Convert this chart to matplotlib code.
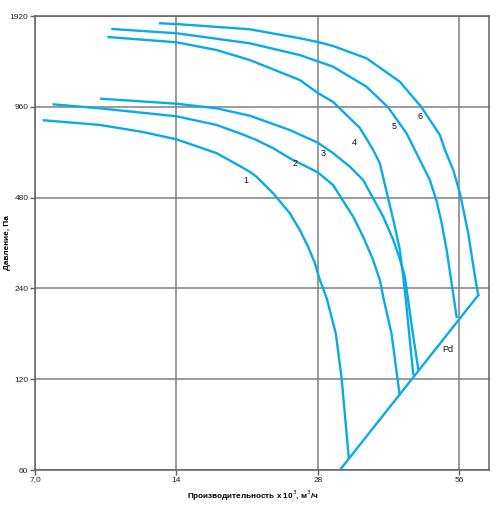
import matplotlib.pyplot as plt
from matplotlib.ticker import FixedLocator, FixedFormatter, NullLocator

plt.rcParams['font.family'] = ['Liberation Sans', 'DejaVu Sans']

# характеристики вентилятора, Q (тыс. м3/ч) и P (Па)
q1 = [7.31, 9.61, 11.88, 14.0, 17.04, 19.1, 20.06, 20.73, 22.49, 24.41, 25.63, 26.7, 27.6, 28.28, 28.74, 29.31, 30.58, 31.45, 32.6]
p1 = [866, 836, 792, 749, 674, 611, 585, 563, 496, 426, 375, 330, 291, 256, 240, 220, 170, 122, 65.6]

q2 = [7.67, 9.61, 14.0, 17.04, 19.1, 20.73, 22.49, 24.41, 28.0, 30.18, 31.45, 33.3, 34.97, 36.73, 37.95, 38.58, 40.19, 41.8]
p2 = [978, 949, 893, 836, 784, 745, 700, 648, 582, 528, 477, 415, 356, 298, 256, 225, 170, 107]

q3 = [9.69, 14.0, 17.04, 20.06, 24.41, 28.0, 30.18, 32.76, 34.97, 36.73, 38.58, 40.52, 41.86, 42.9, 43.6, 44.62, 45.8]
p3 = [1021, 983, 949, 897, 804, 730, 674, 608, 549, 477, 415, 348, 300, 263, 220, 170, 130]

q4 = [10.04, 14.0, 17.04, 20.06, 25.63, 28.0, 30.18, 34.41, 36.73, 37.95, 39.53, 40.85, 41.86, 42.55, 43.11, 43.82, 44.69]
p4 = [1635, 1571, 1481, 1372, 1178, 1067, 996, 817, 691, 624, 477, 385, 322, 263, 220, 170, 125]

q5 = [10.23, 14.0, 20.06, 25.63, 30.18, 35.56, 39.53, 43.26, 46.93, 48.5, 50.12, 51.32, 52.65, 53.95, 55.29]
p5 = [1739, 1683, 1559, 1425, 1304, 1119, 956, 784, 608, 549, 468, 399, 322, 250, 193]

q6 = [12.92, 14.0, 20.06, 25.63, 28.0, 30.18, 35.56, 41.86, 46.56, 50.94, 52.21, 54.38, 56.2, 58.53, 60.49, 61.47]
p6 = [1816, 1806, 1735, 1620, 1575, 1527, 1390, 1163, 956, 774, 691, 593, 496, 366, 263, 228]

q_pd = [31.2, 61.5]
p_pd = [60, 228]

x_ticks = [7, 14, 28, 56]
x_labels = ['7,0', '14', '28', '56']
y_ticks = [60, 120, 240, 480, 960, 1920]
y_labels = ['60', '120', '240', '480', '960', '1920']

color = '#0aaae6'

fig = plt.figure(figsize=(5.0, 5.05), dpi=100)
ax = fig.add_axes([0.07, 0.0693, 0.9086, 0.899])

for q, p in [(q1, p1), (q2, p2), (q3, p3), (q4, p4), (q5, p5), (q6, p6), (q_pd, p_pd)]:
    ax.plot(q, p, color=color, lw=1.7, solid_joinstyle='round', zorder=3)

ax.set_xscale('log', base=2)
ax.set_yscale('log', base=2)
ax.set_xlim(7, 64.9)
ax.set_ylim(60, 1920)

ax.xaxis.set_major_locator(FixedLocator(x_ticks))
ax.xaxis.set_major_formatter(FixedFormatter(x_labels))
ax.yaxis.set_major_locator(FixedLocator(y_ticks))
ax.yaxis.set_major_formatter(FixedFormatter(y_labels))
ax.xaxis.set_minor_locator(NullLocator())
ax.yaxis.set_minor_locator(NullLocator())

ax.grid(True, color='#808080', lw=1.1, zorder=1)
for s in ax.spines.values():
    s.set_color('#606060')
    s.set_linewidth(1.1)
ax.tick_params(length=3.5, width=1, color='#606060', labelsize=6,
               labelcolor='#222222', pad=1.2)

# подписи кривых
for txt, qx, py in [('1', 19.67, 549), ('2', 25.1, 625), ('3', 28.74, 670),
                    ('4', 33.46, 730), ('5', 40.8, 825), ('6', 46.2, 890),
                    ('Pd', 52.9, 150)]:
    ax.text(qx, py, txt, fontsize=6.5, ha='center', va='center', color='#111111')

ax.set_xlabel('Производительность x 10$^3$, м$^3$/ч', fontsize=5.9, fontweight='bold')
ax.set_ylabel('Давление, Па', fontsize=5.9, fontweight='bold')
ax.xaxis.set_label_coords(0.48, -0.04)
ax.yaxis.set_label_coords(-0.052, 0.5)

fig.savefig('out.png', dpi=100)
